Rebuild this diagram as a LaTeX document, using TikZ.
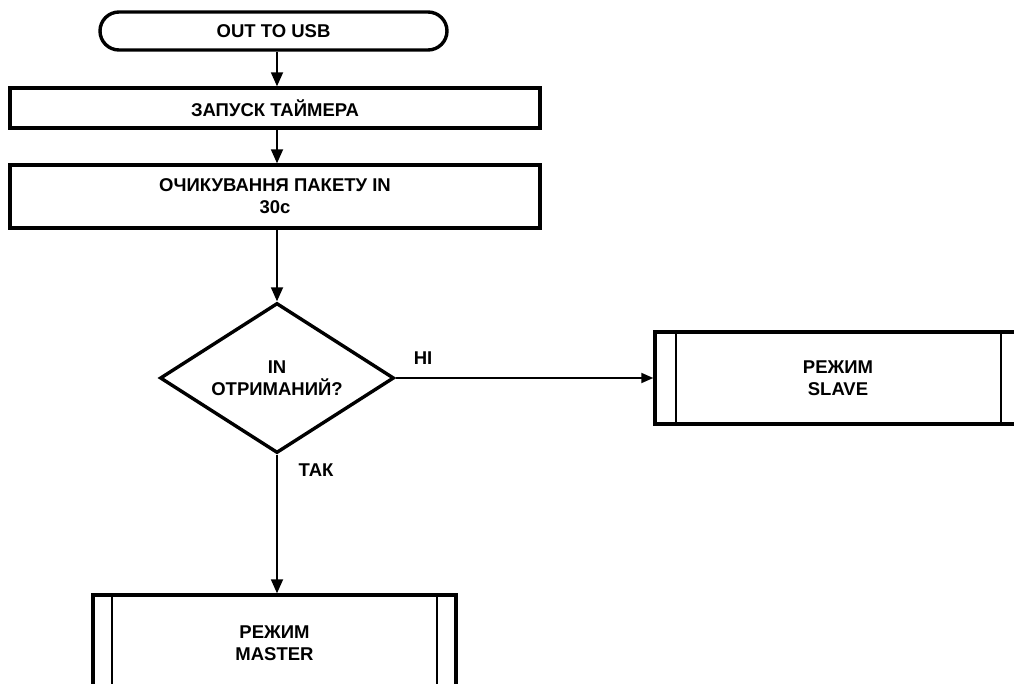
\documentclass[tikz,border=0pt]{standalone}
\usepackage{fontspec}
\setmainfont{Liberation Sans}
\usetikzlibrary{shapes.geometric,arrows.meta}
\begin{document}
\begin{tikzpicture}[x=1pt,y=-1pt,
  txt/.style={font=\bfseries\fontsize{18.5}{22}\selectfont, align=center, inner sep=0pt},
  block/.style={txt, draw, line width=3.4pt, rectangle, minimum width=#1},
  term/.style={txt, draw, line width=3.4pt, rounded corners=19pt, minimum height=38pt},
  decision/.style={draw, line width=3.4pt, diamond, inner sep=0pt, minimum width=234pt, minimum height=150pt},
  sub/.style={txt, draw, line width=3.4pt, rectangle},
  flow/.style={line width=1.8pt, -{Triangle[length=14pt,width=12pt]}},
  edgelabel/.style={font=\bfseries\fontsize{18.5}{22}\selectfont, inner sep=0pt}
]
\useasboundingbox (0,0) rectangle (1014,684);
\fill[white] (0,0) rectangle (1014,684);
\clip (0,0) rectangle (1014,684);

% main column
\node[term, minimum width=347pt] (start) at (273.5,31) {OUT TO USB};
\node[block=530pt, minimum height=40pt] (timer) at (275,108) {ЗАПУСК ТАЙМЕРА};
\node[block=530pt, minimum height=63pt] (wait) at (275,196.5) {ОЧИКУВАННЯ ПАКЕТУ IN\\30с};
\node[decision] (got) at (277,378) {};
\node[txt] (gottext) at (got.center) {IN\\ОТРИМАНИЙ?};

% predefined-process blocks
\node[sub, minimum width=366pt, minimum height=92pt] (slave) at (838,378) {РЕЖИМ\\SLAVE};
\draw[line width=2.2pt] ([xshift=23pt]slave.north west) -- ([xshift=23pt]slave.south west);
\draw[line width=2.2pt] ([xshift=-22pt]slave.north east) -- ([xshift=-22pt]slave.south east);

\node[sub, minimum width=363pt, minimum height=96pt] (master) at (274.5,643) {РЕЖИМ\\MASTER};
\draw[line width=2.2pt] ([xshift=21pt]master.north west) -- ([xshift=21pt]master.south west);
\draw[line width=2.2pt] ([xshift=-21pt]master.north east) -- ([xshift=-21pt]master.south east);

% connectors
\draw[flow] (start.south -| got.north) -- (timer.north -| got.north);
\draw[flow] (timer.south -| got.north) -- (wait.north -| got.north);
\draw[flow] (wait.south -| got.north) -- (got.north);
\draw[flow, -{Triangle[length=12pt,width=10pt]}] (got.east) -- (got.east -| slave.west);
\draw[flow] (got.south) -- (master.north -| got.south);

% branch labels
\node[edgelabel] (no) at (423,358) {НІ};
\node[edgelabel] (yes) at (316,470) {ТАК};
\end{tikzpicture}
\end{document}
